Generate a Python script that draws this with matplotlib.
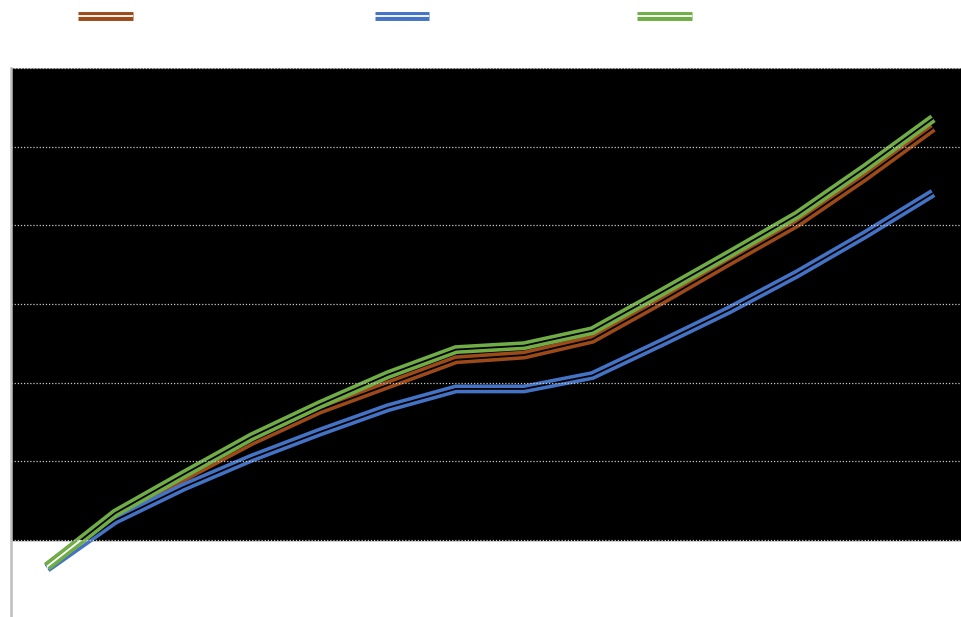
import numpy as np
import matplotlib
matplotlib.use("Agg")
import matplotlib.pyplot as plt
from matplotlib.patches import Rectangle
from matplotlib.lines import Line2D

# categories (no labels are visible on the chart)
cats = np.arange(14)

s_orange = [-0.34, 0.31, 0.79, 1.25, 1.65, 1.97, 2.29, 2.35, 2.55, 3.03, 3.53, 4.02, 4.61, 5.24]
s_blue = [-0.36, 0.25, 0.67, 1.04, 1.37, 1.68, 1.92, 1.92, 2.09, 2.50, 2.92, 3.38, 3.88, 4.41]
s_green = [-0.34, 0.34, 0.83, 1.31, 1.72, 2.10, 2.42, 2.47, 2.66, 3.14, 3.63, 4.13, 4.73, 5.36]

colors = ['#9c4a1a', '#4472c4', '#70ad47']
series = [s_orange, s_blue, s_green]

W, H = 961, 617
fig = plt.figure(figsize=(W / 100, H / 100), dpi=100)
ax = fig.add_axes([11 / W, 0, 1 - 11 / W, 1 - 68 / H])

ymin, ymax = -0.98, 6
xmin, xmax = -0.528, 13.41
ax.set_xlim(xmin, xmax)
ax.set_ylim(ymin, ymax)

# black plot band above zero
ax.axhspan(0, ymax, color='black', zorder=0)

for yg in range(0, 7):
    ax.axhline(yg, color='#c8c8c8', lw=0.9, ls=(0, (1, 1.5)), zorder=5)
ax.axhline(6, color='#808080', lw=1.2, zorder=4)

clip_dark = Rectangle((xmin, 0), xmax - xmin, ymax, transform=ax.transData)
clip_light = Rectangle((xmin, ymin), xmax - xmin, -ymin, transform=ax.transData)

LW, GAP = 6.4, 1.3
for i, (vals, c) in enumerate(zip(series, colors)):
    z = 2 + i
    ax.plot(cats, vals, color=c, lw=LW, solid_capstyle='butt', solid_joinstyle='miter', zorder=z)
    g1, = ax.plot(cats, vals, color='black', lw=GAP, solid_capstyle='butt', zorder=z + 0.1)
    g1.set_clip_path(clip_dark)
    g2, = ax.plot(cats, vals, color='white', lw=GAP, solid_capstyle='butt', zorder=z + 0.1)
    g2.set_clip_path(clip_light)

ax.set_xticks([])
ax.set_yticks([])
for s in ['top', 'right', 'bottom']:
    ax.spines[s].set_visible(False)
ax.spines['left'].set_color('#bfbfbf')
ax.spines['left'].set_linewidth(1.8)

# legend entries (double lines, labels not visible)
leg_x = [(78, 133), (375, 429), (637, 692)]
for (x0, x1), c in zip(leg_x, colors):
    y = 1 - 15.5 / H
    fig.add_artist(Line2D([x0 / W, x1 / W], [y, y], transform=fig.transFigure,
                          color=c, lw=LW, solid_capstyle='butt'))
    fig.add_artist(Line2D([x0 / W, x1 / W], [y, y], transform=fig.transFigure,
                          color='white', lw=GAP, solid_capstyle='butt'))

fig.savefig('out.png', dpi=100, facecolor='white')
